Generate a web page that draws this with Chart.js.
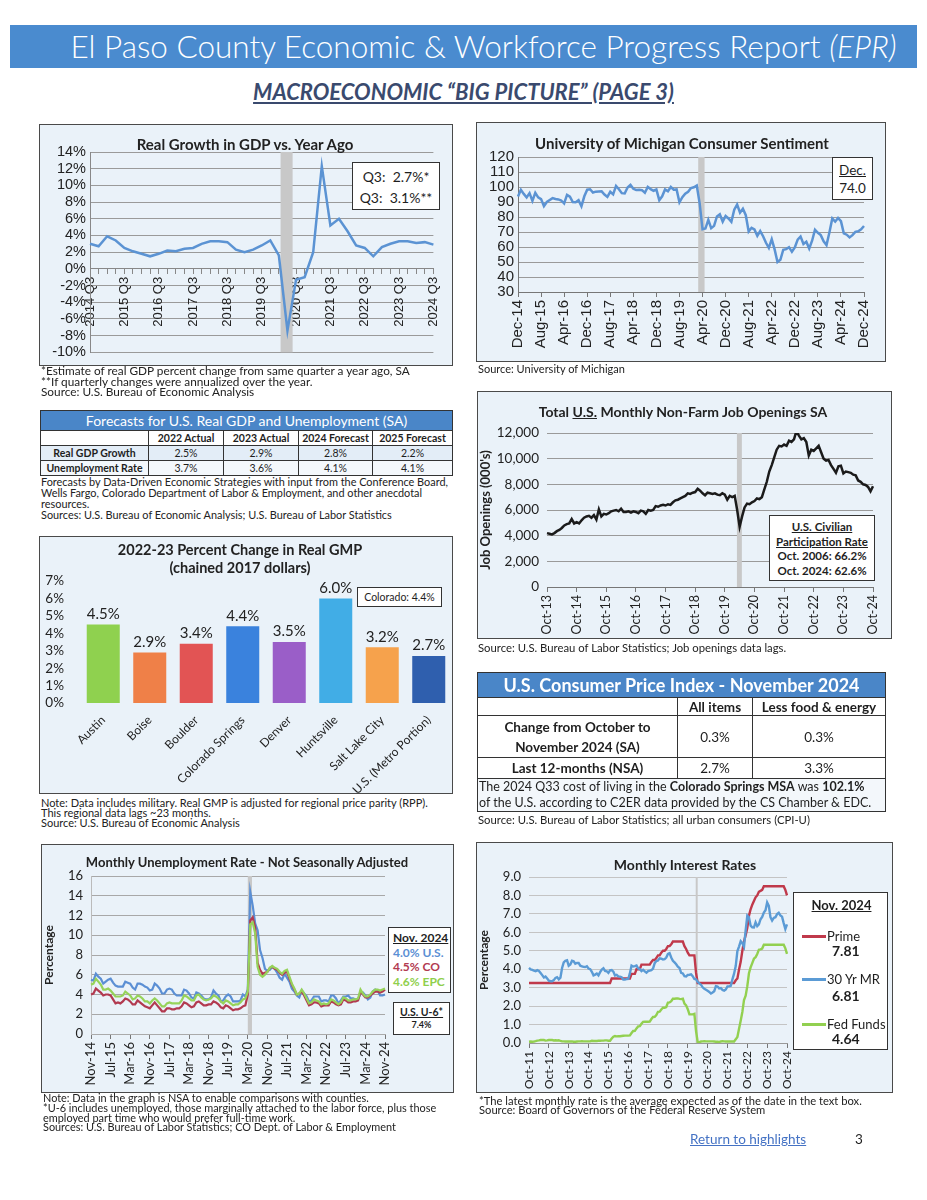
<!DOCTYPE html>
<html>
<head>
<meta charset="utf-8">
<script src="https://cdn.jsdelivr.net/npm/chart.js@4.4.1/dist/chart.umd.min.js"></script>
<style>
body { margin: 0; background: #fff; font-family: Lato, "Noto Sans", sans-serif; color: #1e1e1e; }
#page { position: relative; width: 927px; height: 1200px; overflow: hidden; }
.box { position: absolute; background: #eaf2f9; outline: 1px solid #4a4a4a; }
.box canvas { position: absolute; left: 0; top: 0; }
.note { position: absolute; font-size: 11px; line-height: 10.5px; white-space: nowrap; color: #222; }
.ctitle { position: absolute; font-weight: bold; white-space: nowrap; transform: translateX(-50%); line-height: 18px; color: #222; }
.ann { position: absolute; background: #fff; border: 1px solid #333; box-sizing: border-box; text-align: center; white-space: nowrap; }
.u { text-decoration: underline; }
table { position: absolute; border-collapse: collapse; table-layout: fixed; }
td, th { border: 1px solid #333; padding: 0; text-align: center; white-space: nowrap; }
#header { position: absolute; left: 10px; top: 25px; width: 907px; height: 43px; background: #4a8bcf; color: #fff;
  font-size: 31.5px; font-weight: 300; text-align: center; line-height: 43px; box-sizing: border-box; padding-left: 40px; }
#sub { position: absolute; left: 0; width: 927px; top: 78px; text-align: center; font-size: 22px; font-weight: bold;
  font-style: italic; color: #3a4a6e; text-decoration: underline; }
</style>
</head>
<body>
<div id="page">
  <div id="header">El Paso County Economic &amp; Workforce Progress Report <i>(EPR)</i></div>
  <div id="sub">MACROECONOMIC “BIG PICTURE” (PAGE 3)</div>

  <!-- GDP -->
  <div class="box" style="left:40px;top:125px;width:412px;height:240px"><canvas id="gdp" width="412" height="240"></canvas></div>
  <div class="ctitle" style="left:245px;top:135px;font-size:15px">Real Growth in GDP vs. Year Ago</div>
  <div class="ann" style="left:352px;top:162px;width:88px;height:48px;font-size:14px;line-height:21px;padding-top:3px">Q3:&nbsp; 2.7%*<br>Q3:&nbsp; 3.1%**</div>
  <div class="note" style="left:41px;top:366px;font-size:11.8px">*Estimate of real GDP percent change from same quarter a year ago, SA</div>
  <div class="note" style="left:41px;top:377px;font-size:11.8px">**If quarterly changes were annualized over the year.</div>
  <div class="note" style="left:41px;top:387px;font-size:11.8px">Source: U.S. Bureau of Economic Analysis</div>

  <!-- Michigan -->
  <div class="box" style="left:477px;top:123px;width:408px;height:238px"><canvas id="mich" width="408" height="238"></canvas></div>
  <div class="ctitle" style="left:682px;top:134px;font-size:15px">University of Michigan Consumer Sentiment</div>
  <div class="ann" style="left:832px;top:157px;width:41px;height:43px;font-size:13.5px;line-height:18px;padding-top:3px"><span class="u">Dec.</span><br>74.0</div>
  <div class="note" style="left:478px;top:364px">Source: University of Michigan</div>

  <!-- Forecast table -->
  <table id="fc" style="left:40px;top:410px;width:412px"></table>
  <div class="note" style="left:41px;top:477px;font-size:10.9px">Forecasts by Data-Driven Economic Strategies with input from the Conference Board,</div>
  <div class="note" style="left:41px;top:488px;font-size:10.9px">Wells Fargo, Colorado Department of Labor &amp; Employment, and other anecdotal</div>
  <div class="note" style="left:41px;top:499px;font-size:10.9px">resources.</div>
  <div class="note" style="left:41px;top:510px;font-size:10.9px">Sources: U.S. Bureau of Economic Analysis; U.S. Bureau of Labor Statistics</div>

  <!-- GMP -->
  <div class="box" style="left:40px;top:537px;width:412px;height:256px"><canvas id="gmp" width="412" height="256"></canvas></div>
  <div class="ctitle" style="left:240px;top:541px;font-size:14.5px">2022-23 Percent Change in Real GMP</div>
  <div class="ctitle" style="left:240px;top:559px;font-size:14.5px">(chained 2017 dollars)</div>
  <div class="ann" style="left:357px;top:587px;width:85px;height:20px;font-size:10.5px;line-height:18px">Colorado: 4.4%</div>
  <div class="note" style="left:41px;top:798px;font-size:11px">Note: Data includes military. Real GMP is adjusted for regional price parity (RPP).</div>
  <div class="note" style="left:41px;top:808px;font-size:11px">This regional data lags ~23 months.</div>
  <div class="note" style="left:41px;top:818px;font-size:11px">Source: U.S. Bureau of Economic Analysis</div>

  <!-- Job openings -->
  <div class="box" style="left:478px;top:392px;width:413px;height:246px"><canvas id="jobs" width="413" height="246"></canvas></div>
  <div class="ctitle" style="left:683px;top:403px;font-size:14px">Total <span class="u">U.S.</span> Monthly Non-Farm Job Openings SA</div>
  <div class="ann" style="left:769px;top:515px;width:106px;height:66px;font-size:11.5px;line-height:14.5px;font-weight:bold;padding-top:4px">
    <span class="u">U.S. Civilian</span><br><span class="u">Participation Rate</span><br>Oct. 2006: 66.2%<br>Oct. 2024: 62.6%</div>
  <div class="note" style="left:478px;top:643px;font-size:11.3px">Source: U.S. Bureau of Labor Statistics; Job openings data lags.</div>

  <!-- CPI table -->
  <table id="cpi" style="left:477px;top:672px;width:408px"></table>
  <div class="note" style="left:478px;top:815px;font-size:11.3px">Source: U.S. Bureau of Labor Statistics; all urban consumers (CPI-U)</div>

  <!-- Unemployment -->
  <div class="box" style="left:42px;top:845px;width:411px;height:247px"><canvas id="unemp" width="411" height="247"></canvas></div>
  <div class="ctitle" style="left:247px;top:853px;font-size:13px">Monthly Unemployment Rate - Not Seasonally Adjusted</div>
  <div class="ann" style="left:388px;top:927px;width:63px;height:66px;font-size:12px;line-height:14.5px;text-align:left;padding:3px 0 0 4px;font-weight:bold">
    <span class="u">Nov. 2024</span><br><span style="color:#5b8fd4">4.0% U.S.</span><br><span style="color:#b23a50">4.5% CO</span><br><span style="color:#8fcf4c">4.6% EPC</span></div>
  <div class="ann" style="left:393px;top:1002px;width:57px;height:33px;font-weight:bold;padding-top:3px">
    <div class="u" style="font-size:10.5px;line-height:13px">U.S. U-6*</div><div style="font-size:9px;line-height:12px">7.4%</div></div>
  <div class="note" style="left:43px;top:1093px;font-size:10.9px">Note: Data in the graph is NSA to enable comparisons with counties.</div>
  <div class="note" style="left:43px;top:1103px;font-size:10.9px">*U-6 includes unemployed, those marginally attached to the labor force, plus those</div>
  <div class="note" style="left:43px;top:1113px;font-size:10.9px">employed part time who would prefer full-time work.</div>
  <div class="note" style="left:43px;top:1122px;font-size:10.9px">Sources: U.S. Bureau of Labor Statistics; CO Dept. of Labor &amp; Employment</div>

  <!-- Interest rates -->
  <div class="box" style="left:477px;top:843px;width:415px;height:249px"><canvas id="rates" width="415" height="249"></canvas></div>
  <div class="ctitle" style="left:685px;top:856px;font-size:14px">Monthly Interest Rates</div>
  <div class="ann" style="left:793px;top:892px;width:95px;height:158px;font-size:13px;text-align:left">
    <div class="u" style="position:absolute;left:0;width:95px;top:4px;text-align:center;font-weight:bold;font-size:13px">Nov. 2024</div>
    <div style="position:absolute;left:8px;top:42px;width:24px;height:3px;background:#c0394b"></div>
    <div style="position:absolute;left:33px;top:35px">Prime</div>
    <div style="position:absolute;left:38px;top:49px;font-weight:bold;font-size:14px">7.81</div>
    <div style="position:absolute;left:8px;top:85px;width:24px;height:3px;background:#5b9bd5"></div>
    <div style="position:absolute;left:33px;top:78px">30 Yr MR</div>
    <div style="position:absolute;left:38px;top:94px;font-weight:bold;font-size:14px">6.81</div>
    <div style="position:absolute;left:8px;top:130px;width:24px;height:3px;background:#92d050"></div>
    <div style="position:absolute;left:33px;top:123px">Fed Funds</div>
    <div style="position:absolute;left:38px;top:137px;font-weight:bold;font-size:14px">4.64</div>
  </div>
  <div class="note" style="left:479px;top:1096px;font-size:11.2px">*The latest monthly rate is the average expected as of the date in the text box.</div>
  <div class="note" style="left:479px;top:1105px;font-size:11.2px">Source: Board of Governors of the Federal Reserve System</div>

  <div style="position:absolute;left:690px;top:1131px;font-size:13.5px;color:#4472c4;text-decoration:underline">Return to highlights</div>
  <div style="position:absolute;left:855px;top:1131px;font-size:13.5px">3</div>
</div>

<script>
// ---------- data ----------
const MON = ['Jan','Feb','Mar','Apr','May','Jun','Jul','Aug','Sep','Oct','Nov','Dec'];
function months(m0, y0, n) {
  const out = [];
  for (let i = 0; i < n; i++) {
    const m = (m0 + i) % 12, y = y0 + Math.floor((m0 + i) / 12);
    out.push(MON[m] + '-' + String(y).slice(2));
  }
  return out;
}
function quarters(q0, y0, n) {
  const out = [];
  for (let i = 0; i < n; i++) {
    const q = (q0 - 1 + i) % 4 + 1, y = y0 + Math.floor((q0 - 1 + i) / 4);
    out.push(y + ' Q' + q);
  }
  return out;
}

// Real GDP % change vs year ago, 2014 Q3 .. 2024 Q3
const gdpLabels = quarters(3, 2014, 41);
const gdpValues = [3.0,2.7,3.9,3.4,2.5,2.1,1.8,1.5,1.8,2.2,2.1,2.4,2.5,3.0,3.3,3.3,3.2,2.3,2.0,2.3,
  2.8,3.4,1.6,-7.4,-1.3,-1.0,2.0,12.3,5.2,6.0,4.5,2.8,2.5,1.5,2.6,3.0,3.3,3.3,3.1,3.2,2.9];

// UMich consumer sentiment, Dec-14 .. Dec-24
const michLabels = months(11, 2014, 121);
const michValues = [93.6,
  98.1,95.4,93.0,95.9,90.7,96.1,93.1,91.9,87.2,90.0,91.3,92.6,
  92.0,91.7,91.0,89.0,94.7,93.5,90.0,89.8,91.2,87.2,93.8,98.2,
  98.5,96.3,96.9,97.0,97.1,95.0,93.4,96.8,95.1,100.7,98.5,95.9,
  95.7,99.7,101.4,98.8,98.0,98.2,97.9,96.2,100.1,98.6,97.5,98.3,
  91.2,93.8,98.4,97.2,100.0,98.2,98.4,89.8,93.2,95.5,96.8,99.3,
  99.8,101.0,89.1,71.8,72.3,78.1,72.5,74.1,80.4,81.8,76.9,80.7,
  79.0,76.8,84.9,88.3,82.9,85.5,81.2,70.3,72.8,71.7,67.4,70.6,
  67.2,62.8,59.4,65.2,58.4,50.0,51.5,58.2,58.6,59.9,56.8,59.7,
  64.9,67.0,62.0,63.5,59.0,64.2,71.5,69.5,67.9,63.8,61.3,69.7,
  79.0,76.9,79.4,77.2,69.1,68.2,66.4,67.9,70.1,70.5,71.8,74.0];

// Forecast table
const fcColumns = ['2022 Actual','2023 Actual','2024 Forecast','2025 Forecast'];
const fcGdp = ['2.5%','2.9%','2.8%','2.2%'];
const fcUnemp = ['3.7%','3.6%','4.1%','4.1%'];

// Real GMP change 2022-23
const gmpCities = ['Austin','Boise','Boulder','Colorado Springs','Denver','Huntsville','Salt Lake City','U.S. (Metro Portion)'];
const gmpValues = [4.5,2.9,3.4,4.4,3.5,6.0,3.2,2.7];
const gmpColors = ['#8fd14f','#ef8048','#e25454','#3a82dd','#9a5ec8','#41ade6','#f6a24c','#2f5fae'];

// JOLTS job openings (000s), Oct-13 .. Oct-24
const jobLabels = months(9, 2013, 133);
const jobValues = [4200,4150,4100,
  4200,4350,4450,4600,4800,4900,4950,5300,4950,5050,4950,5200,
  5400,5500,5550,5400,5600,5250,6050,5500,5700,5650,5750,5900,
  5950,6000,5900,6100,5850,5850,5900,5800,5900,5850,5750,5950,
  5900,5700,6000,5950,6000,6300,6250,6350,6400,6350,6450,6400,
  6600,6750,6800,6900,7000,7100,7300,7250,7350,7400,7650,7500,
  7300,7150,7350,7300,7250,7300,7200,7150,7300,7200,6800,7100,
  7000,7100,6000,4700,5500,6200,6500,6450,6600,6700,6900,6850,
  7000,7600,8200,9000,9500,10100,10700,11000,10950,11100,11000,11400,
  11300,11500,12150,11800,11500,11600,11300,10250,10700,10600,10800,11000,
  10500,10000,9850,9900,9500,9200,8900,9400,9450,8850,9000,8950,
  8900,8750,8700,8300,8200,8000,7950,7800,7450,7850];

// CPI table
const cpiColumns = ['All items','Less food &amp; energy'];
const cpiRows = ['Change from October to<br>November 2024 (SA)','Last 12-months (NSA)'];
const cpiAll = ['0.3%','2.7%'];
const cpiCore = ['0.3%','3.3%'];

// Unemployment NSA, Nov-14 .. Nov-24
const unLabels = months(10, 2014, 121);
const unUS = [5.5,5.4,
  6.1,5.8,5.6,5.1,5.3,5.5,5.6,5.2,4.9,4.8,4.8,4.8,
  5.3,5.2,5.1,4.7,4.5,5.1,5.1,5.0,4.8,4.7,4.4,4.5,
  5.1,4.9,4.6,4.1,4.1,4.5,4.6,4.5,4.1,3.9,3.9,3.9,
  4.5,4.4,4.1,3.7,3.6,4.2,4.1,3.9,3.6,3.5,3.5,3.7,
  4.4,4.1,3.9,3.3,3.4,3.8,4.0,3.8,3.3,3.3,3.3,3.4,
  4.0,3.8,4.5,14.4,13.0,11.2,10.5,8.5,7.7,6.6,6.4,6.5,
  6.8,6.6,6.2,5.7,5.5,6.1,5.7,5.3,4.6,4.3,3.9,3.7,
  4.4,4.1,3.8,3.3,3.4,3.8,3.8,3.8,3.3,3.4,3.4,3.3,
  3.9,3.9,3.6,3.1,3.4,3.8,3.8,3.9,3.6,3.6,3.5,3.5,
  4.1,4.2,3.9,3.5,3.7,4.3,4.5,4.4,3.9,3.9,4.0];
const unCO = [4.0,4.1,
  4.6,4.4,4.2,3.9,4.0,4.0,3.9,3.5,3.1,3.2,3.1,3.3,
  3.6,3.5,3.3,3.0,3.0,3.4,3.2,3.0,2.8,2.7,2.6,2.9,
  3.2,2.9,2.6,2.3,2.3,2.6,2.6,2.5,2.5,2.6,2.6,2.8,
  3.2,3.1,2.9,2.7,2.8,3.2,3.3,3.1,2.9,2.9,3.0,3.0,
  3.3,3.2,3.0,2.7,2.6,2.9,2.8,2.6,2.4,2.5,2.5,2.6,
  2.8,2.9,4.0,11.5,11.8,10.8,7.2,6.5,6.1,6.2,6.3,6.7,
  6.8,6.6,6.5,6.2,6.0,6.2,6.3,5.6,5.0,4.5,4.0,4.1,
  4.3,3.9,3.4,2.9,3.0,3.2,3.2,3.1,2.8,2.9,2.9,2.9,
  3.3,3.2,3.0,2.9,3.0,3.5,3.4,3.2,3.2,3.3,3.3,3.4,
  4.3,4.0,3.7,3.7,3.9,4.1,4.3,4.3,4.2,4.3,4.5];
const unEPC = [5.0,5.1,
  5.6,5.3,5.0,4.5,4.5,4.6,4.4,4.1,3.8,3.8,3.8,3.9,
  4.3,4.1,3.9,3.5,3.6,3.9,3.8,3.6,3.3,3.3,3.1,3.4,
  3.6,3.4,3.1,2.8,2.8,3.1,3.2,3.1,3.1,3.1,3.1,3.4,
  3.9,3.8,3.6,3.4,3.4,3.9,4.0,3.7,3.5,3.4,3.5,3.6,
  3.9,3.8,3.6,3.3,3.1,3.4,3.3,3.1,2.9,3.0,3.0,3.2,
  3.5,3.6,4.3,11.1,11.3,10.2,6.8,6.0,5.8,6.0,6.3,6.7,
  6.9,6.7,6.6,6.3,6.1,6.4,6.5,5.8,5.1,4.6,4.0,4.1,
  4.5,4.1,3.6,3.1,3.2,3.5,3.4,3.3,3.0,3.1,3.0,3.1,
  3.5,3.4,3.2,3.0,3.2,3.7,3.6,3.4,3.4,3.5,3.5,3.6,
  4.5,4.1,3.8,3.8,4.0,4.3,4.5,4.5,4.4,4.5,4.6];

// Interest rates, Oct-11 .. Oct-24
const rateLabels = months(9, 2011, 157);
const prime = [3.25,3.25,3.25,
  3.25,3.25,3.25,3.25,3.25,3.25,3.25,3.25,3.25,3.25,3.25,3.25,
  3.25,3.25,3.25,3.25,3.25,3.25,3.25,3.25,3.25,3.25,3.25,3.25,
  3.25,3.25,3.25,3.25,3.25,3.25,3.25,3.25,3.25,3.25,3.25,3.25,
  3.25,3.25,3.25,3.25,3.25,3.25,3.25,3.25,3.25,3.25,3.25,3.50,
  3.50,3.50,3.50,3.50,3.50,3.50,3.50,3.50,3.50,3.50,3.50,3.75,
  3.75,3.75,4.00,4.00,4.00,4.25,4.25,4.25,4.25,4.25,4.25,4.40,
  4.50,4.50,4.60,4.75,4.75,4.90,5.00,5.00,5.10,5.25,5.25,5.35,
  5.50,5.50,5.50,5.50,5.50,5.50,5.50,5.25,5.10,4.90,4.75,4.75,
  4.75,4.75,3.80,3.25,3.25,3.25,3.25,3.25,3.25,3.25,3.25,3.25,
  3.25,3.25,3.25,3.25,3.25,3.25,3.25,3.25,3.25,3.25,3.25,3.25,
  3.25,3.25,3.40,3.50,3.98,4.40,5.00,5.50,5.85,6.25,6.90,7.25,
  7.50,7.70,7.90,8.00,8.20,8.25,8.30,8.50,8.50,8.50,8.50,8.50,
  8.50,8.50,8.50,8.50,8.50,8.50,8.50,8.50,8.30,8.00];
const mortgage = [4.07,3.99,3.96,
  3.92,3.89,3.95,3.91,3.80,3.68,3.55,3.60,3.50,3.38,3.35,3.35,
  3.41,3.53,3.57,3.45,3.54,4.07,4.37,4.46,4.49,4.19,4.26,4.46,
  4.43,4.30,4.34,4.34,4.19,4.16,4.13,4.12,4.16,4.04,4.00,3.86,
  3.67,3.71,3.77,3.67,3.84,3.98,4.05,3.91,3.89,3.80,3.94,3.96,
  3.87,3.66,3.69,3.61,3.60,3.57,3.44,3.44,3.46,3.47,3.77,4.20,
  4.15,4.17,4.20,4.05,4.01,3.90,3.97,3.88,3.81,3.90,3.92,3.95,
  4.03,4.33,4.44,4.47,4.59,4.57,4.53,4.55,4.63,4.83,4.87,4.64,
  4.46,4.37,4.27,4.14,4.07,3.80,3.77,3.62,3.61,3.69,3.70,3.72,
  3.62,3.47,3.45,3.31,3.23,3.16,3.02,2.94,2.89,2.83,2.77,2.68,
  2.74,2.81,3.08,3.06,2.96,2.98,2.87,2.84,2.90,3.07,3.07,3.10,
  3.45,3.76,4.17,4.98,5.23,5.52,5.41,5.22,6.11,6.90,6.81,6.36,
  6.27,6.26,6.54,6.34,6.43,6.71,6.84,7.07,7.20,7.62,7.44,6.82,
  6.64,6.78,6.82,6.99,7.06,6.92,6.85,6.50,6.18,6.43];
const fedFunds = [0.07,0.08,0.07,
  0.08,0.10,0.13,0.14,0.16,0.16,0.16,0.13,0.14,0.16,0.16,0.16,
  0.14,0.15,0.14,0.15,0.11,0.09,0.09,0.08,0.08,0.09,0.08,0.09,
  0.07,0.07,0.08,0.09,0.09,0.10,0.09,0.09,0.09,0.09,0.09,0.12,
  0.11,0.11,0.11,0.12,0.12,0.13,0.13,0.14,0.14,0.12,0.12,0.24,
  0.34,0.38,0.36,0.37,0.37,0.38,0.39,0.40,0.40,0.40,0.41,0.54,
  0.65,0.66,0.79,0.90,0.91,1.04,1.15,1.16,1.15,1.15,1.16,1.30,
  1.41,1.42,1.51,1.69,1.70,1.82,1.91,1.91,1.95,2.19,2.20,2.27,
  2.40,2.40,2.41,2.42,2.39,2.38,2.40,2.13,2.04,1.83,1.55,1.55,
  1.55,1.58,0.65,0.05,0.05,0.08,0.09,0.10,0.09,0.09,0.09,0.09,
  0.09,0.08,0.07,0.07,0.06,0.08,0.10,0.09,0.08,0.08,0.08,0.08,
  0.08,0.08,0.20,0.33,0.77,1.21,1.68,2.33,2.56,3.08,3.78,4.10,
  4.33,4.57,4.65,4.83,5.06,5.08,5.12,5.33,5.33,5.33,5.33,5.33,
  5.33,5.33,5.33,5.33,5.33,5.33,5.33,5.33,5.13,4.83];

// ---------- tables ----------
document.getElementById('fc').innerHTML =
  '<colgroup><col style="width:108px"><col style="width:75px"><col style="width:75px"><col style="width:74px"><col style="width:80px"></colgroup>' +
  '<tr><th colspan="5" style="background:#4a86c8;color:#fff;font-size:14px;font-weight:normal;height:19px;line-height:19px">Forecasts for U.S. Real GDP and Unemployment (SA)</th></tr>' +
  '<tr style="font-size:10.5px;font-weight:bold;height:15px;background:#fff"><td></td>' + fcColumns.map(c => '<td>' + c + '</td>').join('') + '</tr>' +
  '<tr style="font-size:10.5px;height:15px;background:#e3edf7"><td style="font-weight:bold">Real GDP Growth</td>' + fcGdp.map(c => '<td>' + c + '</td>').join('') + '</tr>' +
  '<tr style="font-size:10.5px;height:15px;background:#f4f8fc"><td style="font-weight:bold">Unemployment Rate</td>' + fcUnemp.map(c => '<td>' + c + '</td>').join('') + '</tr>';

document.getElementById('cpi').innerHTML =
  '<colgroup><col style="width:200px"><col style="width:75px"><col style="width:133px"></colgroup>' +
  '<tr><th colspan="3" style="background:#4a86c8;color:#fff;font-size:18px;height:24px;line-height:24px">U.S. Consumer Price Index - November 2024</th></tr>' +
  '<tr style="font-size:13.5px;font-weight:bold;height:18px"><td></td><td>' + cpiColumns[0] + '</td><td>' + cpiColumns[1] + '</td></tr>' +
  cpiRows.map((r, i) => '<tr style="font-size:13.5px;height:' + (i === 0 ? 42 : 18) + 'px;line-height:20px"><td style="font-weight:bold">' + r +
    '</td><td>' + cpiAll[i] + '</td><td>' + cpiCore[i] + '</td></tr>').join('') +
  '<tr><td colspan="3" style="font-size:12.5px;line-height:16px;height:32px;text-align:left;padding-left:1px;background:#f3f7fb">' +
  'The 2024 Q33 cost of living in the <b>Colorado Springs MSA</b> was <b>102.1%</b><br>of the U.S. according to C2ER data provided by the CS Chamber &amp; EDC.</td></tr>';

// ---------- charts ----------
Chart.defaults.font.family = 'Lato, "Noto Sans", sans-serif';
Chart.defaults.color = '#222';

const recessionBand = {
  id: 'recessionBand',
  beforeDatasetsDraw(chart, args, opts) {
    const xs = chart.scales.x, area = chart.chartArea, ctx = chart.ctx;
    const x0 = xs.getPixelForValue(opts.from), x1 = xs.getPixelForValue(opts.to);
    ctx.save();
    ctx.fillStyle = '#c8c8c8';
    ctx.fillRect(x0, area.top, x1 - x0, area.bottom - area.top);
    ctx.restore();
  }
};

const barLabels = {
  id: 'barLabels',
  afterDatasetsDraw(chart) {
    const ctx = chart.ctx, meta = chart.getDatasetMeta(0);
    ctx.save();
    ctx.font = '15px Lato';
    ctx.fillStyle = '#222';
    ctx.textAlign = 'center';
    ctx.textBaseline = 'bottom';
    meta.data.forEach((bar, i) => ctx.fillText(gmpValues[i].toFixed(1) + '%', bar.x, bar.y - 3));
    ctx.restore();
  }
};

function everyN(n, color) {
  return ctx => (ctx.index % n === 0 ? color : 'rgba(0,0,0,0)');
}
function monthTicks(n, size, family) {
  return {
    autoSkip: false, maxRotation: 90, minRotation: 90, padding: 3,
    font: { size: size, family: family },
    callback: function (v, i) { return i % n === 0 ? this.getLabelForValue(v) : ''; }
  };
}
const noUi = { legend: { display: false }, tooltip: { enabled: false } };

// GDP
new Chart(document.getElementById('gdp'), {
  type: 'line',
  data: { labels: gdpLabels, datasets: [{ data: gdpValues, borderColor: '#5b93d3', borderWidth: 2.5, pointRadius: 0, tension: 0 }] },
  options: {
    responsive: false, animation: false,
    layout: { padding: { left: 0, right: 11, top: 27, bottom: 9 } },
    plugins: { ...noUi, recessionBand: { from: 22.2, to: 23.6 } },
    scales: {
      x: {
        position: { y: 0 },
        grid: { drawOnChartArea: false, tickLength: 5, color: '#888' },
        border: { color: '#888' },
        ticks: {
          autoSkip: false, maxRotation: 90, minRotation: 90, padding: 3,
          font: { size: 13, family: 'Liberation Sans' },
          callback: function (v, i) { return i % 4 === 0 ? this.getLabelForValue(v) : ''; }
        }
      },
      y: {
        min: -10, max: 14,
        afterFit: s => { s.width = 50; },
        grid: { color: '#9a9a9a', drawTicks: false },
        border: { color: '#888' },
        ticks: { stepSize: 2, autoSkip: false, padding: 4, font: { size: 14.5, family: 'Liberation Sans' }, callback: v => v + '%' }
      }
    }
  },
  plugins: [recessionBand]
});

// Michigan
new Chart(document.getElementById('mich'), {
  type: 'line',
  data: { labels: michLabels, datasets: [{ data: michValues, borderColor: '#5b93d3', borderWidth: 2.5, pointRadius: 0, tension: 0 }] },
  options: {
    responsive: false, animation: false,
    layout: { padding: { left: 0, right: 11, top: 34, bottom: 0 } },
    plugins: { ...noUi, recessionBand: { from: 62.5, to: 64.7 } },
    scales: {
      x: {
        afterFit: s => { s.height = 69; },
        grid: { drawOnChartArea: false, tickLength: 5, color: everyN(8, '#777') },
        border: { color: '#777' },
        ticks: monthTicks(8, 15, 'Liberation Sans')
      },
      y: {
        min: 30, max: 120,
        afterFit: s => { s.width = 41; },
        grid: { color: '#9a9a9a', drawTicks: false },
        border: { color: '#777' },
        ticks: { stepSize: 10, autoSkip: false, padding: 4, font: { size: 15, family: 'Liberation Sans' } }
      }
    }
  },
  plugins: [recessionBand]
});

// GMP bars
new Chart(document.getElementById('gmp'), {
  type: 'bar',
  data: { labels: gmpCities, datasets: [{ data: gmpValues, backgroundColor: gmpColors, categoryPercentage: 1, barPercentage: 0.71 }] },
  options: {
    responsive: false, animation: false,
    layout: { padding: { left: 0, right: 0, top: 44, bottom: 0 } },
    plugins: noUi,
    scales: {
      x: {
        afterFit: s => { s.height = 90; },
        grid: { display: false }, border: { display: false },
        ticks: { autoSkip: false, maxRotation: 45, minRotation: 45, padding: 2, font: { size: 12 } }
      },
      y: {
        min: 0, max: 7,
        afterFit: s => { s.width = 40; },
        grid: { display: false }, border: { display: false },
        ticks: { stepSize: 1, autoSkip: false, padding: 8, font: { size: 13.5 }, callback: v => v + '%' }
      }
    }
  },
  plugins: [barLabels]
});

// Job openings
new Chart(document.getElementById('jobs'), {
  type: 'line',
  data: { labels: jobLabels, datasets: [{ data: jobValues, borderColor: '#1b1b1b', borderWidth: 2.5, pointRadius: 0, tension: 0 }] },
  options: {
    responsive: false, animation: false,
    layout: { padding: { left: 0, right: 18, top: 41, bottom: 0 } },
    plugins: { ...noUi, recessionBand: { from: 76.9, to: 78.9 } },
    scales: {
      x: {
        afterFit: s => { s.height = 51; },
        grid: { drawOnChartArea: false, tickLength: 5, color: everyN(12, '#777') },
        border: { color: '#777' },
        ticks: monthTicks(12, 12.5)
      },
      y: {
        min: 0, max: 12000,
        afterFit: s => { s.width = 69; },
        title: { display: true, text: "Job Openings (000's)", font: { size: 13, weight: 'bold' }, padding: 0 },
        grid: { color: '#9a9a9a', drawTicks: false },
        border: { display: false },
        ticks: { stepSize: 2000, autoSkip: false, padding: 8, font: { size: 13.5 }, callback: v => v.toLocaleString('en-US') }
      }
    }
  },
  plugins: [recessionBand]
});

// Unemployment
new Chart(document.getElementById('unemp'), {
  type: 'line',
  data: {
    labels: unLabels,
    datasets: [
      { data: unUS, borderColor: '#5b8fd4', borderWidth: 2.2, pointRadius: 0, tension: 0, order: 3 },
      { data: unCO, borderColor: '#b23a50', borderWidth: 2.2, pointRadius: 0, tension: 0, order: 2 },
      { data: unEPC, borderColor: '#96d35a', borderWidth: 2.2, pointRadius: 0, tension: 0, order: 1 }
    ]
  },
  options: {
    responsive: false, animation: false,
    layout: { padding: { left: 0, right: 68, top: 31, bottom: 0 } },
    plugins: { ...noUi, recessionBand: { from: 64, to: 65.7 } },
    scales: {
      x: {
        afterFit: s => { s.height = 58; },
        grid: { drawOnChartArea: false, tickLength: 5, color: everyN(8, '#777') },
        border: { color: '#aaa' },
        ticks: monthTicks(8, 13)
      },
      y: {
        min: 0, max: 16,
        afterFit: s => { s.width = 49; },
        title: { display: true, text: 'Percentage', font: { size: 12, weight: 'bold' }, padding: 0 },
        grid: { color: '#a8a8a8', drawTicks: false },
        border: { color: '#bbb' },
        ticks: { stepSize: 2, autoSkip: false, padding: 8, font: { size: 13 } }
      }
    }
  },
  plugins: [recessionBand]
});

// Interest rates
new Chart(document.getElementById('rates'), {
  type: 'line',
  data: {
    labels: rateLabels,
    datasets: [
      { data: prime, borderColor: '#c0394b', borderWidth: 2.4, pointRadius: 0, tension: 0, order: 2 },
      { data: mortgage, borderColor: '#5b9bd5', borderWidth: 2.4, pointRadius: 0, tension: 0, order: 1 },
      { data: fedFunds, borderColor: '#92d050', borderWidth: 2.4, pointRadius: 0, tension: 0, order: 3 }
    ]
  },
  options: {
    responsive: false, animation: false,
    layout: { padding: { left: 0, right: 105, top: 34, bottom: 0 } },
    plugins: { ...noUi, recessionBand: { from: 100.8, to: 102 } },
    scales: {
      x: {
        afterFit: s => { s.height = 49; },
        grid: { drawOnChartArea: false, tickLength: 5, color: everyN(12, '#777') },
        border: { color: '#999' },
        ticks: monthTicks(12, 12)
      },
      y: {
        min: 0, max: 9,
        afterFit: s => { s.width = 52; },
        title: { display: true, text: 'Percentage', font: { size: 12, weight: 'bold' }, padding: 0 },
        grid: { color: '#c4c4c4', drawTicks: false },
        border: { display: false },
        ticks: { stepSize: 1, autoSkip: false, padding: 8, font: { size: 13 }, callback: v => v.toFixed(1) }
      }
    }
  },
  plugins: [recessionBand]
});
</script>
</body>
</html>
